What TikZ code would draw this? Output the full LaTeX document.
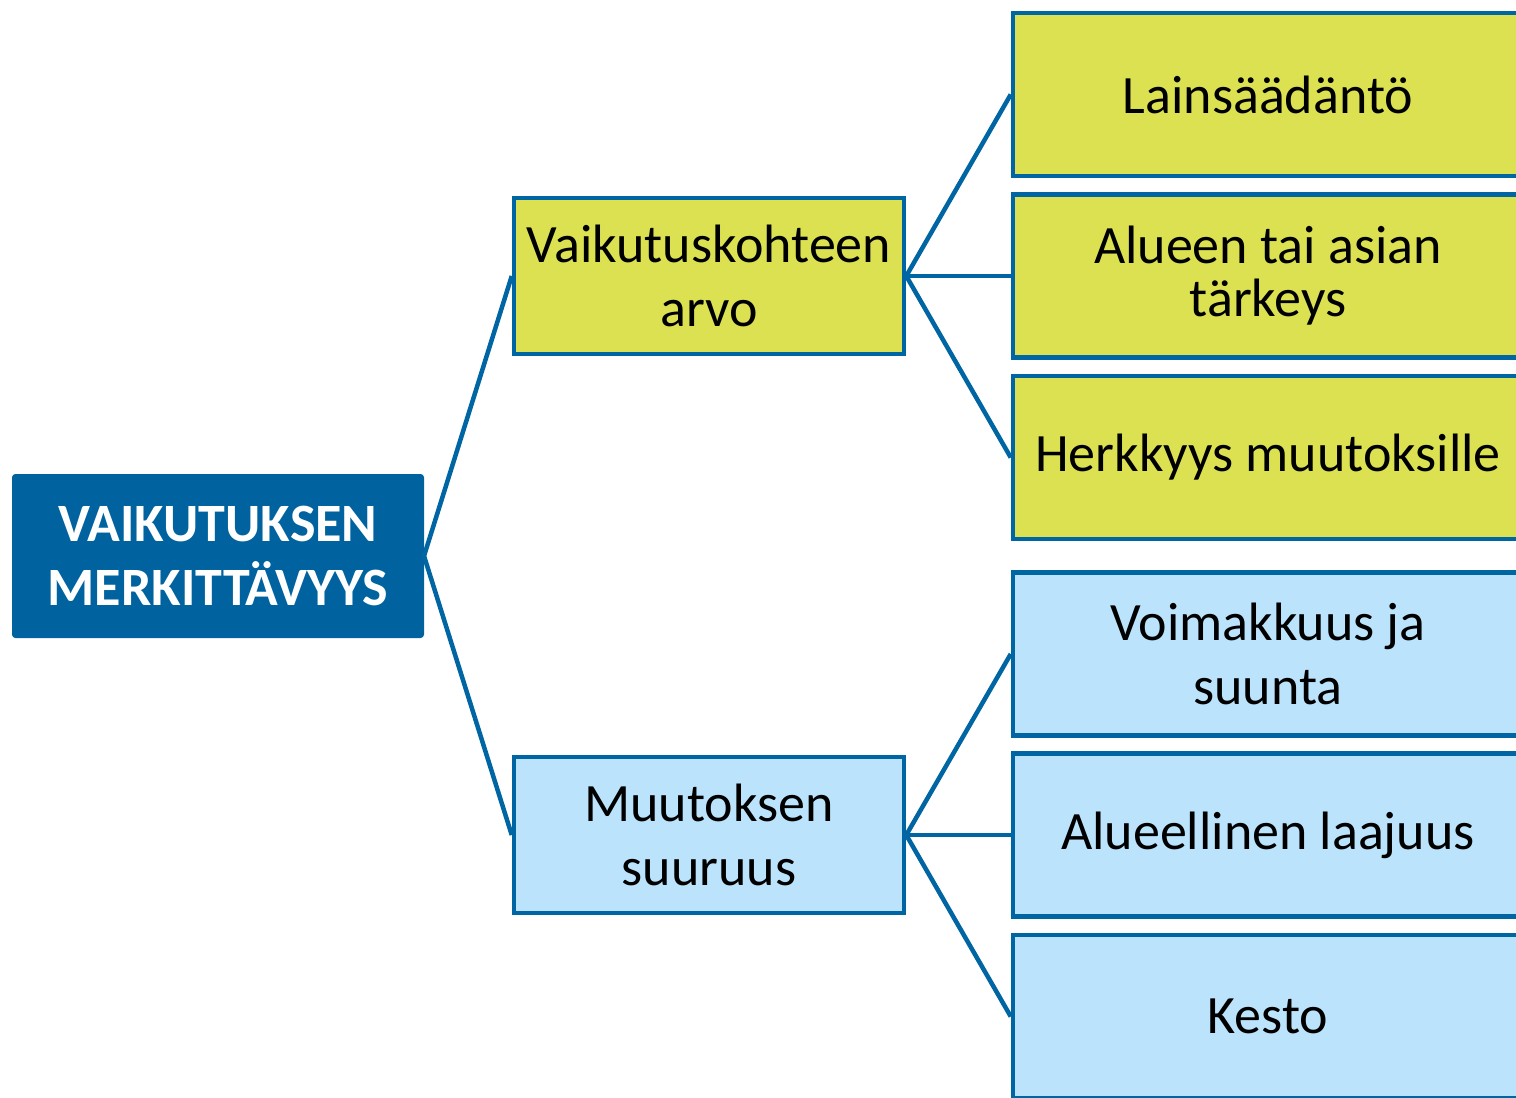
\documentclass[tikz,border=0pt]{standalone}
\usepackage{fontspec}
\setmainfont{Carlito}
\definecolor{lineblue}{RGB}{0,101,163}
\definecolor{mainblue}{RGB}{0,99,160}
\definecolor{yellowg}{RGB}{220,225,82}
\definecolor{lightblue}{RGB}{187,228,252}
\tikzset{
  conn/.style={draw=lineblue, line width=4.5pt},
  mainbox/.style={fill=mainblue, draw=mainblue, line width=1pt, rounded corners=3pt, minimum width=411pt, minimum height=163pt, text=white, align=center, inner sep=0pt, font=\fontsize{54}{64}\selectfont\bfseries},
  midbox/.style={draw=lineblue, line width=4.5pt, minimum width=390pt, minimum height=156pt, align=center, inner sep=0pt, font=\fontsize{54}{64}\selectfont},
  leafbox/.style={draw=lineblue, line width=4.5pt, minimum width=510pt, minimum height=163pt, align=center, inner sep=0pt, font=\fontsize{54}{64}\selectfont},
}
\begin{document}
\begin{tikzpicture}[x=1pt,y=-1pt]
\clip (0,0) rectangle (1516,1098);
\fill[white] (0,0) rectangle (1516,1098);
\node[mainbox] (main) at (218,556) {VAIKUTUKSEN\\MERKITTÄVYYS};
\node[midbox, fill=yellowg] (arvo) at (709,276) {Vaikutuskohteen\\arvo};
\node[midbox, fill=lightblue] (suuruus) at (709,835) {Muutoksen\\suuruus};
\node[leafbox, fill=yellowg] (laki) at (1268,94.5) {Lainsäädäntö};
\node[leafbox, fill=yellowg, font=\fontsize{54}{53}\selectfont] (tarkeys) at (1268,276) {Alueen tai asian\\tärkeys};
\node[leafbox, fill=yellowg] (herkkyys) at (1268,457.5) {Herkkyys muutoksille};
\node[leafbox, fill=lightblue] (voima) at (1268,654) {Voimakkuus ja\\suunta};
\node[leafbox, fill=lightblue] (laajuus) at (1268,835) {Alueellinen laajuus};
\node[leafbox, fill=lightblue] (kesto) at (1268,1016.5) {Kesto};
\draw[conn] (main.east) -- (arvo.west);
\draw[conn] (main.east) -- (suuruus.west);
\draw[conn] (arvo.east) -- (laki.west);
\draw[conn] (arvo.east) -- (tarkeys.west);
\draw[conn] (arvo.east) -- (herkkyys.west);
\draw[conn] (suuruus.east) -- (voima.west);
\draw[conn] (suuruus.east) -- (laajuus.west);
\draw[conn] (suuruus.east) -- (kesto.west);
\end{tikzpicture}
\end{document}
